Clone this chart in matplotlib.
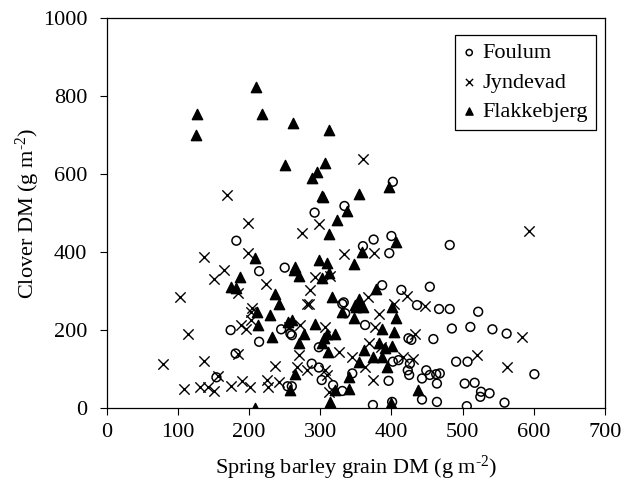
import matplotlib.pyplot as plt

plt.rcParams['font.family'] = ['Liberation Serif', 'DejaVu Serif']
plt.rcParams['mathtext.default'] = 'regular'

# Foulum (open circles)
foulum_x = [402, 182, 214, 250, 334, 292, 375, 400, 360, 397, 333, 387, 414, 454, 436,
            482, 467, 482, 522, 485, 511, 542, 562, 459, 491, 507, 601, 449, 454, 463,
            468, 443, 464, 503, 517, 526, 538, 525, 443, 464, 506, 559,
            174, 214, 245, 260, 181, 154, 254,
            331, 335, 363, 424, 428, 258, 298, 402, 410, 426, 288, 298, 302, 345, 318,
            331, 396, 423, 425, 260, 374, 401]
foulum_y = [580, 429, 351, 360, 518, 501, 432, 441, 415, 397, 271, 315, 303, 311, 264,
            418, 254, 254, 247, 204, 208, 202, 191, 177, 119, 119, 87, 97, 85, 87,
            89, 76, 63, 63, 65, 42, 38, 29, 22, 16, 5, 14,
            200, 170, 202, 187, 140, 79, 56,
            267, 243, 213, 179, 175, 191, 156, 119, 123, 114, 114, 104, 72, 89, 59,
            44, 70, 97, 85, 56, 8, 16]

# Jyndevad (crosses)
jyndevad_x = [169, 360, 198, 137, 198, 165, 150, 184, 224, 103, 204, 298, 274, 375, 334,
              313, 292, 286, 281, 367, 422, 403, 594, 447, 583, 520, 563, 114, 79, 137,
              189, 196, 202, 202, 184, 236, 156, 108, 131, 142, 151, 174, 190, 201, 225,
              226, 242, 284, 383, 377, 433, 272, 307, 326, 270, 368, 386, 345, 431, 417,
              363, 281, 307, 267, 309, 312, 374, 256]
jyndevad_y = [546, 638, 475, 386, 398, 354, 330, 294, 318, 285, 256, 473, 450, 397, 394,
              338, 335, 303, 268, 284, 287, 268, 455, 262, 183, 136, 106, 191, 114, 121,
              213, 204, 226, 247, 138, 108, 82, 50, 55, 53, 44, 56, 70, 53, 73,
              55, 68, 267, 241, 208, 191, 213, 208, 144, 136, 168, 157, 130, 127, 132,
              106, 97, 97, 106, 85, 42, 72, 208]

# Flakkebjerg (filled triangles)
flakke_x = [209, 127, 218, 262, 125, 251, 312, 306, 296, 288, 396, 302, 355, 208, 263,
            187, 174, 181, 237, 242, 304, 338, 323, 312, 407, 359, 347, 298, 310, 312,
            302, 265, 270, 316, 354, 349, 378, 211, 229, 212, 232, 255, 208, 257, 330,
            355, 350, 360, 347, 401, 407, 387, 404, 260, 277, 270, 292, 309, 320, 305,
            302, 311, 361, 382, 401, 391, 374, 387, 354, 394, 265, 340, 321, 340, 314,
            400, 438]
flakke_y = [822, 754, 754, 730, 700, 622, 713, 627, 604, 589, 566, 544, 548, 384, 354,
            335, 311, 309, 292, 266, 540, 506, 482, 445, 425, 401, 369, 379, 371, 345,
            334, 361, 338, 285, 279, 264, 304, 247, 238, 213, 181, 220, 0, 46, 247,
            268, 258, 258, 230, 258, 230, 204, 196, 226, 191, 166, 215, 191, 191, 179,
            166, 143, 149, 166, 159, 153, 130, 130, 119, 106, 87, 80, 46, 48, 16,
            13, 46]

x_ticks = [0, 100, 200, 300, 400, 500, 600, 700]
y_ticks = [0, 200, 400, 600, 800, 1000]

fig = plt.figure(figsize=(6.4, 4.83), dpi=100)
ax = fig.add_axes([0.167, 0.155, 0.778, 0.808])

ax.scatter(foulum_x, foulum_y, s=40, marker='o', facecolors='none',
           edgecolors='black', linewidths=1.1, label='Foulum', zorder=3)
ax.scatter(jyndevad_x, jyndevad_y, s=55, marker='x', color='black',
           linewidths=1.0, label='Jyndevad', zorder=3)
ax.scatter(flakke_x, flakke_y, s=55, marker='^', color='black',
           label='Flakkebjerg', zorder=3)

ax.set_xlim(0, 700)
ax.set_ylim(0, 1000)
ax.set_xticks(x_ticks)
ax.set_yticks(y_ticks)
ax.tick_params(direction='out', length=5, width=0.8, labelsize=16, colors='black')
ax.tick_params(axis='y', pad=9)
ax.tick_params(axis='x', pad=6)
for sp in ax.spines.values():
    sp.set_linewidth(0.9)
    sp.set_color('black')

ax.set_xlabel('Spring barley grain DM (g m$^{\u20102}$)', fontsize=16, labelpad=8)
ax.set_ylabel('Clover DM (g m$^{\u20102}$)', fontsize=16, labelpad=1)

leg = ax.legend(loc='upper right', bbox_to_anchor=(0.982, 0.956), borderaxespad=0,
                fancybox=False, edgecolor='black', framealpha=1, fontsize=16,
                markerscale=0.7, handlelength=0.6, handletextpad=0.3,
                labelspacing=0.4, borderpad=0.35)
leg.get_frame().set_linewidth(0.9)

fig.savefig('out.png', dpi=100)
